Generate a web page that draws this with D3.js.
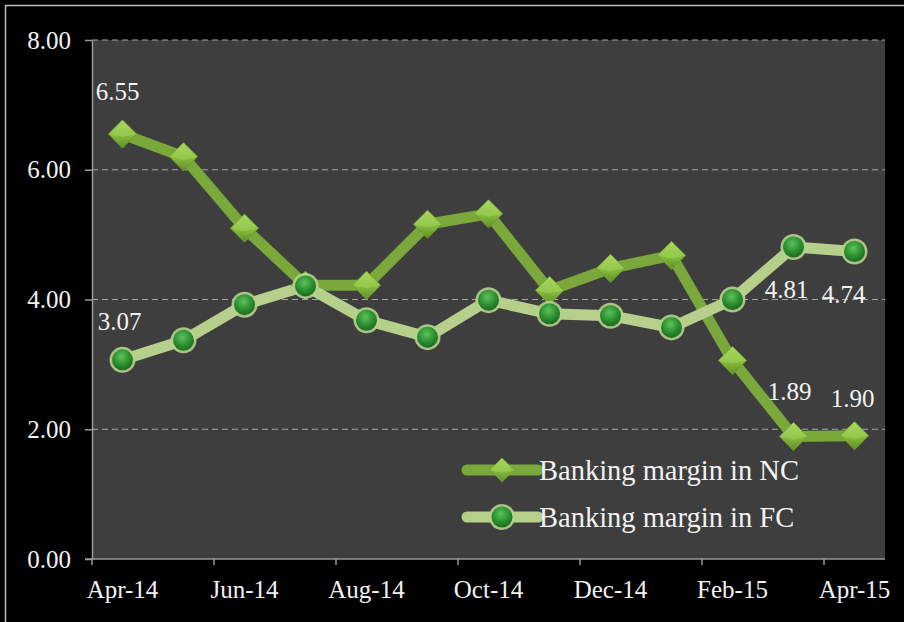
<!DOCTYPE html>
<html>
<head>
<meta charset="utf-8">
<script src="https://cdn.jsdelivr.net/npm/d3@7"></script>
<style>
  body { margin: 0; background: #000; }
  svg { display: block; }
  text { font-family: "Liberation Serif", "Times New Roman", serif; fill: #f2f2f2; }
</style>
</head>
<body>
<svg></svg>
<script>
let width = 904;
let height = 622;

let months = ["Apr-14", "May-14", "Jun-14", "Jul-14", "Aug-14", "Sep-14", "Oct-14",
              "Nov-14", "Dec-14", "Jan-15", "Feb-15", "Mar-15", "Apr-15"];
let ncValues = [6.55, 6.20, 5.10, 4.22, 4.22, 5.16, 5.32, 4.14, 4.48, 4.68, 3.06, 1.89, 1.90];
let fcValues = [3.07, 3.37, 3.92, 4.21, 3.68, 3.42, 3.99, 3.78, 3.75, 3.57, 4.00, 4.81, 4.74];
let yTicks = [0, 2, 4, 6, 8];
let xLabels = ["Apr-14", "Jun-14", "Aug-14", "Oct-14", "Dec-14", "Feb-15", "Apr-15"];
let seriesNames = ["Banking margin in NC", "Banking margin in FC"];

// labelled points: series, index, offset from point
let pointLabels = [
    {s: 0, i: 0, dx: -5, dy: -34},
    {s: 1, i: 0, dx: -3, dy: -30},
    {s: 1, i: 11, dx: -7, dy: 51},
    {s: 1, i: 12, dx: -11, dy: 52},
    {s: 0, i: 11, dx: -4, dy: -36},
    {s: 0, i: 12, dx: -2, dy: -29}
];

let padLeft = 92, padRight = 885, padTop = 40, padBottom = 559;

let x = d3.scaleBand().domain(months).range([padLeft, padRight]).padding(0);
let y = d3.scaleLinear().domain([0, 8]).range([padBottom, padTop]);
let cx = m => x(m) + x.bandwidth() / 2;

let svg = d3.select("svg").attr("width", width).attr("height", height);

let defs = svg.append("defs");
let dg = defs.append("linearGradient").attr("id", "diam")
    .attr("x1", 0).attr("y1", 0).attr("x2", 0).attr("y2", 1);
dg.append("stop").attr("offset", "0%").attr("stop-color", "#a6d65a");
dg.append("stop").attr("offset", "55%").attr("stop-color", "#86bb3c");
dg.append("stop").attr("offset", "100%").attr("stop-color", "#5f8f26");
let cg = defs.append("radialGradient").attr("id", "ball")
    .attr("cx", "45%").attr("cy", "35%").attr("r", "65%");
cg.append("stop").attr("offset", "0%").attr("stop-color", "#5cc25c");
cg.append("stop").attr("offset", "60%").attr("stop-color", "#2b8f2f");
cg.append("stop").attr("offset", "100%").attr("stop-color", "#1d6b22");

svg.append("rect").attr("width", width).attr("height", height).attr("fill", "#000");
svg.append("line").attr("x1", 5).attr("x2", width).attr("y1", 5.5).attr("y2", 5.5)
    .attr("stroke", "#bdbdbd").attr("stroke-width", 1.5);
svg.append("line").attr("x1", 5.5).attr("x2", 5.5).attr("y1", 5).attr("y2", height)
    .attr("stroke", "#bdbdbd").attr("stroke-width", 1.5);

svg.append("rect")
    .attr("x", padLeft).attr("y", padTop)
    .attr("width", padRight - padLeft).attr("height", padBottom - padTop)
    .attr("fill", "#3e3e3e");

// gridlines
svg.selectAll(".grid")
    .data(yTicks.filter(d => d > 0))
    .enter()
    .append("line")
    .attr("x1", padLeft).attr("x2", padRight)
    .attr("y1", d => y(d)).attr("y2", d => y(d))
    .attr("stroke", "#a8a8a8")
    .attr("stroke-width", 1.2)
    .attr("stroke-dasharray", "6,4");

// y axis
let yAxis = d3.axisLeft(y)
    .tickValues(yTicks)
    .tickFormat(d3.format(".2f"))
    .tickSize(7)
    .tickPadding(14)
    .tickSizeOuter(0);
let gy = svg.append("g").attr("transform", "translate(" + padLeft + ",0)").call(yAxis);
gy.select(".domain").attr("stroke", "#9a9a9a").attr("stroke-width", 1.5);
gy.selectAll(".tick line").attr("stroke", "#9a9a9a").attr("stroke-width", 1.5);
gy.selectAll(".tick text").attr("fill", "#f2f2f2").style("font-size", "25px")
    .style("font-family", "Liberation Serif, serif");

// x axis: labels centred in month, ticks at month start
svg.append("line").attr("x1", padLeft - 7).attr("x2", padRight)
    .attr("y1", padBottom).attr("y2", padBottom)
    .attr("stroke", "#9a9a9a").attr("stroke-width", 1.5);
svg.selectAll(".xtick")
    .data(xLabels)
    .enter()
    .append("line")
    .attr("x1", d => x(d)).attr("x2", d => x(d))
    .attr("y1", padBottom).attr("y2", padBottom + 6)
    .attr("stroke", "#9a9a9a").attr("stroke-width", 1.5);
svg.selectAll(".xlab")
    .data(xLabels)
    .enter()
    .append("text")
    .attr("x", d => cx(d))
    .attr("y", 598)
    .style("text-anchor", "middle")
    .style("font-size", "25px")
    .text(d => d);

let line = d3.line()
    .x((d, i) => cx(months[i]))
    .y(d => y(d));

svg.append("path").datum(ncValues)
    .attr("d", line).attr("fill", "none")
    .attr("stroke", "#7aa83a").attr("stroke-width", 11)
    .attr("stroke-linejoin", "miter");
svg.append("path").datum(fcValues)
    .attr("d", line).attr("fill", "none")
    .attr("stroke", "#b6d08c").attr("stroke-width", 11)
    .attr("stroke-linejoin", "miter");

let diamond = "M0,-14L14,0L0,14L-14,0Z";

function drawDiamond(g) {
    g.append("path").attr("d", diamond).attr("fill", "url(#diam)")
        .attr("stroke", "#6e9e30").attr("stroke-width", 1);
    g.append("path").attr("d", "M0,-14L14,0L0,3L-14,0Z").attr("fill", "#a9d862").attr("opacity", 0.45);
}
function drawBall(g) {
    g.append("circle").attr("r", 13).attr("fill", "#b6d08c").attr("opacity", 0.9);
    g.append("circle").attr("r", 10.5).attr("fill", "url(#ball)");
}

svg.selectAll(".nc")
    .data(ncValues)
    .enter()
    .append("g")
    .attr("transform", (d, i) => "translate(" + cx(months[i]) + "," + y(d) + ")")
    .each(function () { drawDiamond(d3.select(this)); });

svg.selectAll(".fc")
    .data(fcValues)
    .enter()
    .append("g")
    .attr("transform", (d, i) => "translate(" + cx(months[i]) + "," + y(d) + ")")
    .each(function () { drawBall(d3.select(this)); });

let allSeries = [ncValues, fcValues];
svg.selectAll(".plab")
    .data(pointLabels)
    .enter()
    .append("text")
    .attr("x", d => cx(months[d.i]) + d.dx)
    .attr("y", d => y(allSeries[d.s][d.i]) + d.dy)
    .style("text-anchor", "middle")
    .style("font-size", "25px")
    .text(d => allSeries[d.s][d.i].toFixed(2));

// legend
let legendY = [470, 517];
let legendColors = ["#7aa83a", "#b6d08c"];
seriesNames.forEach((name, k) => {
    let g = svg.append("g").attr("transform", "translate(0," + legendY[k] + ")");
    g.append("line").attr("x1", 467).attr("x2", 538)
        .attr("stroke", legendColors[k]).attr("stroke-width", 11).attr("stroke-linecap", "round");
    let m = g.append("g").attr("transform", "translate(502,0)");
    if (k === 0) drawDiamond(m.attr("transform", "translate(502,0) scale(0.85)"));
    else drawBall(m);
    g.append("text").attr("x", 539).attr("y", 10)
        .style("font-size", "28.5px")
        .text(name);
});
</script>
</body>
</html>
